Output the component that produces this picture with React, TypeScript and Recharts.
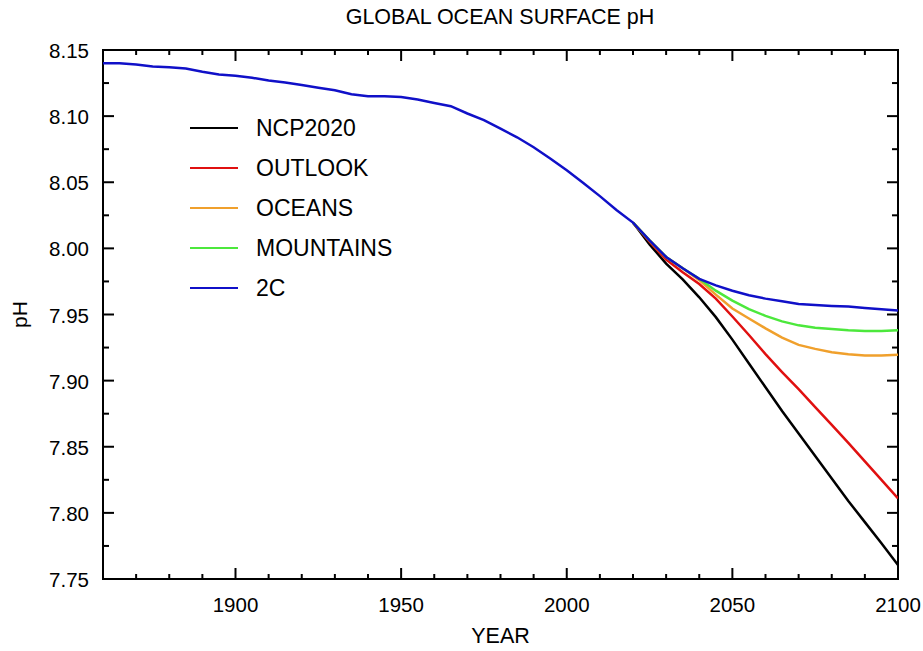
import React from 'react';
import { LineChart, Line, XAxis, YAxis, ReferenceArea, Legend, Label } from 'recharts';

const FONT = '"Liberation Sans", Arial, Helvetica, sans-serif';

// ---- data ----
const years = [
  1860, 1865, 1870, 1875, 1880, 1885, 1890, 1895, 1900, 1905,
  1910, 1915, 1920, 1925, 1930, 1935, 1940, 1945, 1950, 1955,
  1960, 1965, 1970, 1975, 1980, 1985, 1990, 1995, 2000, 2005,
  2010, 2015, 2020, 2025, 2030, 2035, 2040, 2045, 2050, 2055,
  2060, 2065, 2070, 2075, 2080, 2085, 2090, 2095, 2100,
];

const pH2C = [
  8.140, 8.140, 8.139, 8.1375, 8.137, 8.136, 8.1335, 8.1315, 8.1305, 8.129,
  8.127, 8.1255, 8.1235, 8.1215, 8.1195, 8.1165, 8.115, 8.115, 8.1145, 8.1125,
  8.110, 8.1075, 8.102, 8.097, 8.0905, 8.084, 8.0765, 8.068, 8.059, 8.0495,
  8.0395, 8.029, 8.0195, 8.006, 7.9935, 7.985, 7.977, 7.972, 7.968, 7.9645,
  7.962, 7.960, 7.958, 7.9572, 7.9565, 7.956, 7.955, 7.954, 7.953,
];

const scenarioYears = [
  2020, 2025, 2030, 2035, 2040, 2045, 2050, 2055, 2060,
  2065, 2070, 2075, 2080, 2085, 2090, 2095, 2100,
];

const pHNCP2020 = [
  8.0195, 8.003, 7.9885, 7.9765, 7.963, 7.948, 7.931, 7.913, 7.895,
  7.877, 7.860, 7.843, 7.826, 7.809, 7.793, 7.777, 7.7605,
];
const pHOutlook = [
  8.0195, 8.005, 7.9915, 7.982, 7.973, 7.962, 7.9485, 7.9345, 7.920,
  7.9065, 7.8935, 7.880, 7.8665, 7.853, 7.839, 7.825, 7.811,
];
const pHOceans = [
  8.0195, 8.006, 7.9935, 7.985, 7.976, 7.965, 7.9545, 7.947, 7.9395,
  7.9325, 7.927, 7.924, 7.9215, 7.920, 7.919, 7.919, 7.9195,
];
const pHMountains = [
  8.0195, 8.006, 7.9935, 7.985, 7.977, 7.968, 7.9605, 7.954, 7.949,
  7.9448, 7.9418, 7.940, 7.939, 7.938, 7.9375, 7.9375, 7.938,
];

const seriesNames = ['NCP2020', 'OUTLOOK', 'OCEANS', 'MOUNTAINS', '2C'];

const xTicks = [
  1870, 1880, 1890, 1900, 1910, 1920, 1930, 1940, 1950, 1960, 1970, 1980,
  1990, 2000, 2010, 2020, 2030, 2040, 2050, 2060, 2070, 2080, 2090, 2100,
];
const xTickLabels = ['1900', '1950', '2000', '2050', '2100'];

const yTicks = [
  7.75, 7.775, 7.8, 7.825, 7.85, 7.875, 7.9, 7.925, 7.95, 7.975,
  8.0, 8.025, 8.05, 8.075, 8.1, 8.125, 8.15,
];
const yTickLabels = ['7.75', '7.80', '7.85', '7.90', '7.95', '8.00', '8.05', '8.10', '8.15'];

// ---- table built from arrays ----
const seriesByName: Record<string, { xs: number[]; ys: number[] }> = {
  NCP2020: { xs: scenarioYears, ys: pHNCP2020 },
  OUTLOOK: { xs: scenarioYears, ys: pHOutlook },
  OCEANS: { xs: scenarioYears, ys: pHOceans },
  MOUNTAINS: { xs: scenarioYears, ys: pHMountains },
  '2C': { xs: years, ys: pH2C },
};

const table = years.map((yr) => {
  const row: Record<string, number | null> = { year: yr };
  seriesNames.forEach((name) => {
    const s = seriesByName[name];
    const idx = s.xs.indexOf(yr);
    row[name] = idx >= 0 ? s.ys[idx] : null;
  });
  return row;
});

// ---- styles ----
const COLORS: Record<string, string> = {
  NCP2020: '#000000',
  OUTLOOK: '#e01010',
  OCEANS: '#f0a02c',
  MOUNTAINS: '#4ce83c',
  '2C': '#1010c8',
};

const W = 923;
const H = 651;
const PLOT_TOP = 50;
const PLOT_RIGHT = 898;

function XTick(props: any) {
  const { x, y, payload } = props;
  const v = payload.value;
  const major = xTickLabels.includes(String(v));
  const len = major ? 11 : 5;
  return (
    <g>
      <line x1={x} y1={y} x2={x} y2={y - len} stroke="#000" strokeWidth={2} />
      <line x1={x} y1={PLOT_TOP} x2={x} y2={PLOT_TOP + len} stroke="#000" strokeWidth={2} />
      {major && (
        <text x={x} y={y + 33} textAnchor="middle" fontSize={20.5} fontFamily={FONT} fill="#000">
          {String(v)}
        </text>
      )}
    </g>
  );
}

function YTick(props: any) {
  const { x, y, payload } = props;
  const label = Number(payload.value).toFixed(2);
  const major = yTickLabels.includes(label) && Math.abs(Number(label) - payload.value) < 1e-6;
  const len = major ? 11 : 6;
  return (
    <g>
      <line x1={x} y1={y} x2={x + len} y2={y} stroke="#000" strokeWidth={2} />
      <line x1={PLOT_RIGHT} y1={y} x2={PLOT_RIGHT - len} y2={y} stroke="#000" strokeWidth={2} />
      {major && (
        <text x={x - 14} y={y + 8} textAnchor="end" fontSize={20.5} fontFamily={FONT} fill="#000">
          {label}
        </text>
      )}
    </g>
  );
}

function renderLegend(props: any) {
  const payload = [...(props.payload || [])].sort(
    (a: any, b: any) => seriesNames.indexOf(a.value) - seriesNames.indexOf(b.value)
  );
  return (
    <div style={{ fontFamily: FONT, fontSize: 23, color: '#000' }}>
      {payload.map((entry: any) => (
        <div key={entry.value} style={{ display: 'flex', alignItems: 'center', height: 40 }}>
          <span
            style={{
              display: 'inline-block',
              width: 48,
              height: 0,
              borderTop: `2.5px solid ${entry.color}`,
              marginRight: 18,
            }}
          />
          <span style={{ lineHeight: '40px' }}>{entry.value}</span>
        </div>
      ))}
    </div>
  );
}

const YLabel = (props: any) => {
  const { viewBox } = props;
  const cx = viewBox.x + 26.7;
  const cy = viewBox.y + viewBox.height / 2;
  return (
    <text
      x={cx}
      y={cy}
      transform={`rotate(-90, ${cx}, ${cy})`}
      textAnchor="middle"
      fontSize={21}
      fontFamily={FONT}
      fill="#000"
    >
      pH
    </text>
  );
};

const XLabel = (props: any) => {
  const { viewBox } = props;
  const cx = viewBox.x + viewBox.width / 2;
  return (
    <text x={cx} y={643} textAnchor="middle" fontSize={21.5} fontFamily={FONT} fill="#000">
      YEAR
    </text>
  );
};

export default function App() {
  return (
    <div style={{ position: 'absolute', left: 0, top: 0, width: W, height: H, background: '#fff' }}>
      <LineChart
        width={W}
        height={H}
        data={table}
        margin={{ top: 50, right: 25, left: 0, bottom: 8 }}
      >
        <XAxis
          dataKey="year"
          type="number"
          domain={[1860, 2100]}
          ticks={xTicks}
          interval={0}
          tickSize={0}
          tickMargin={0}
          axisLine={false}
          tickLine={false}
          tick={<XTick />}
          height={64}
          allowDataOverflow
        >
          <Label content={<XLabel />} />
        </XAxis>
        <YAxis
          type="number"
          domain={[7.75, 8.15]}
          ticks={yTicks}
          interval={0}
          tickSize={0}
          tickMargin={0}
          axisLine={false}
          tickLine={false}
          tick={<YTick />}
          width={103}
          allowDataOverflow
        >
          <Label content={<YLabel />} />
        </YAxis>
        <ReferenceArea
          x1={1860}
          x2={2100}
          y1={7.75}
          y2={8.15}
          fill="none"
          fillOpacity={0}
          stroke="#000"
          strokeWidth={2}
        />
        {seriesNames.map((name) => (
          <Line
            key={name}
            type="linear"
            dataKey={name}
            name={name}
            stroke={COLORS[name]}
            strokeWidth={2.5}
            dot={false}
            activeDot={false}
            isAnimationActive={false}
            connectNulls={false}
          />
        ))}
        <Legend
          layout="vertical"
          align="center"
          verticalAlign="middle"
          content={renderLegend}
          wrapperStyle={{ left: 190, top: 108, width: 260, height: 200 }}
        />
      </LineChart>
      <svg
        width={W}
        height={40}
        style={{ position: 'absolute', left: 0, top: 0, pointerEvents: 'none' }}
      >
        <text x={500} y={24} textAnchor="middle" fontSize={21.5} fontFamily={FONT} fill="#000">
          GLOBAL OCEAN SURFACE pH
        </text>
      </svg>
    </div>
  );
}
